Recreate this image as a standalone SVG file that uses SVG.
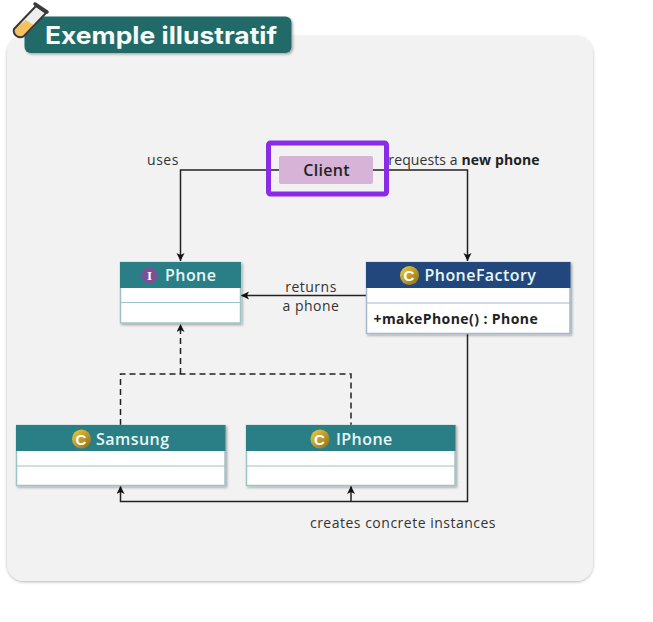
<svg xmlns="http://www.w3.org/2000/svg" width="653" height="622" viewBox="0 0 653 622">
<style>
.t{font-family:"Open Sans","Liberation Sans",sans-serif}
.lbl{font-family:"Open Sans","Liberation Sans",sans-serif;font-size:14px;fill:#333;text-anchor:middle;letter-spacing:.5px}
.hd{font-family:"Open Sans","Liberation Sans",sans-serif;font-size:16px;font-weight:600;fill:#e8f6f6;letter-spacing:.45px}
.body{fill:#fff;stroke:#9cc4c6;stroke-width:1.5}
.div{stroke:#9cc4c6;stroke-width:1.2}
.line{fill:none;stroke:#222;stroke-width:1.5}
.ic{font-family:"Liberation Sans",sans-serif;font-weight:700;fill:#fff;text-anchor:middle}
</style>
<defs>
<marker id="a" markerWidth="9" markerHeight="9" refX="8" refY="4" orient="auto" markerUnits="userSpaceOnUse"><path d="M0 0L8 4L0 8L2 4Z" fill="#111"/></marker>
<filter id="s" x="-5%" y="-5%" width="112%" height="115%"><feDropShadow dx="1.5" dy="1.5" stdDeviation="1.2" flood-color="#000" flood-opacity=".3"/></filter>
<filter id="p" x="-3%" y="-3%" width="106%" height="106%"><feDropShadow dx="0" dy="1" stdDeviation="1.5" flood-color="#000" flood-opacity=".3"/></filter>
<linearGradient id="g" x1="0" y1="0" x2="1" y2="1"><stop offset="0" stop-color="#f2cf3c"/><stop offset="1" stop-color="#8a6a20"/></linearGradient>
</defs>
<rect width="653" height="622" fill="#fff"/>
<rect id="panel" x="7" y="36" width="586" height="545" rx="17" fill="#f2f2f2" filter="url(#p)"/>
<g id="title">
<rect x="24.500" y="16.500" width="267" height="36.500" rx="6" fill="#236b68" filter="url(#s)"/>
<text x="45" y="43.500" font-family="Inter,'Liberation Sans',sans-serif" font-size="24" font-weight="700" fill="#f4fbfa" textLength="232" lengthAdjust="spacingAndGlyphs">Exemple illustratif</text>
</g>
<g id="flask">
<path d="M36 6L46 13L24 36A6.500 6.500 0 0 1 14 29Z" fill="#eee"/>
<path d="M26 20L35 26L24 36A6.500 6.500 0 0 1 14 29Z" fill="#f2c35e"/>
<path d="M36 6L46 13L24 36A6.500 6.500 0 0 1 14 29Z" fill="none" stroke="#3a3a3a" stroke-width="2" stroke-linejoin="round"/>
<path d="M35 4L47 12" stroke="#3a3a3a" stroke-width="3.500" stroke-linecap="round"/>
</g>
<g id="connectors">
<path class="line" d="M279 170H180.500V261" marker-end="url(#a)"/>
<path class="line" d="M373 170H467.500V261" marker-end="url(#a)"/>
<path class="line" d="M366 295.500H241" marker-end="url(#a)"/>
<path class="line" d="M467.500 333.500V501.500H120.500V486" marker-end="url(#a)"/>
<path class="line" d="M351 501.500V486" marker-end="url(#a)"/>
<path class="line" stroke-dasharray="6 4" d="M120.500 425V374H351V425"/>
<path class="line" stroke-dasharray="6 4" d="M180.500 374V324" marker-end="url(#a)"/>
</g>
<text class="lbl" x="163" y="164.500">uses</text>
<text class="lbl" x="464" y="164.500" style="letter-spacing:.1px">requests a <tspan font-weight="700" fill="#222">new phone</tspan></text>
<text class="lbl" x="311" y="291.500">returns</text>
<text class="lbl" x="311" y="310.500">a phone</text>
<text class="lbl" x="403" y="527.500">creates concrete instances</text>
<g id="client">
<rect x="268.500" y="143" width="118" height="51" rx="2" fill="#f2f2f2" fill-opacity="0" stroke="#8a2be8" stroke-width="5"/>
<rect x="279" y="156" width="94" height="28" rx="2" fill="#d7b3d7"/>
<text class="t" x="326.500" y="176" font-size="16" font-weight="600" fill="#222" text-anchor="middle" letter-spacing=".3">Client</text>
</g>
<g id="phone">
<g filter="url(#s)"><rect class="body" x="120.500" y="262.500" width="120" height="60.500"/></g>
<rect x="120" y="262" width="121" height="26" fill="#2a7f86"/>
<line class="div" x1="121" y1="302.500" x2="240" y2="302.500"/>
<circle cx="149.500" cy="275.500" r="8" fill="#7b5096"/>
<text x="149.500" y="280" font-family="'Liberation Serif',serif" font-weight="700" font-size="13" fill="#fff" text-anchor="middle">I</text>
<text class="hd" x="165" y="281">Phone</text>
</g>
<g id="phonefactory">
<g filter="url(#s)"><rect class="body" x="366.500" y="262.500" width="203.500" height="71" style="stroke:#a5b8cc"/></g>
<rect x="366" y="262" width="204.500" height="26" fill="#22477c"/>
<line class="div" x1="367" y1="303" x2="570" y2="303" style="stroke:#a5b8cc"/>
<circle cx="409.500" cy="275.500" r="9.500" fill="url(#g)"/>
<text class="ic" x="409" y="281" font-size="15">C</text>
<text class="hd" x="424.500" y="281">PhoneFactory</text>
<text class="t" x="373.500" y="324" font-size="14" font-weight="700" fill="#222" letter-spacing=".42">+makePhone() : Phone</text>
</g>
<g id="samsung">
<g filter="url(#s)"><rect class="body" x="16.500" y="425.500" width="208.500" height="60"/></g>
<rect x="16" y="425" width="209.500" height="26" fill="#2a7f86"/>
<line class="div" x1="17" y1="466" x2="225" y2="466"/>
<circle cx="81.500" cy="439" r="9.500" fill="url(#g)"/>
<text class="ic" x="81" y="444.500" font-size="15">C</text>
<text class="hd" x="96" y="445">Samsung</text>
</g>
<g id="iphone">
<g filter="url(#s)"><rect class="body" x="246.500" y="425.500" width="208.500" height="60"/></g>
<rect x="246" y="425" width="209.500" height="26" fill="#2a7f86"/>
<line class="div" x1="247" y1="466" x2="455" y2="466"/>
<circle cx="320" cy="439" r="9.500" fill="url(#g)"/>
<text class="ic" x="319.500" y="444.500" font-size="15">C</text>
<text class="hd" x="336" y="445">IPhone</text>
</g>
</svg>
